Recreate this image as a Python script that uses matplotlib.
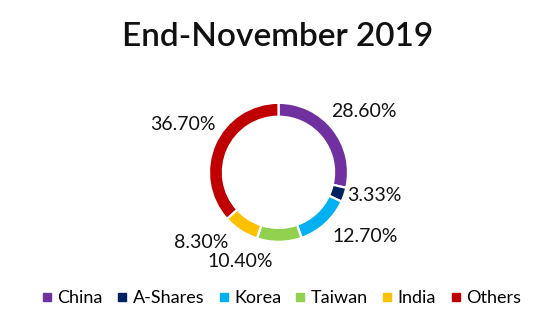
import numpy as np
import matplotlib
matplotlib.use('Agg')
import matplotlib.pyplot as plt
from matplotlib.lines import Line2D

# Datos
regiones = ['China', 'A-Shares', 'Korea', 'Taiwan', 'India', 'Others']
pesos = [28.60, 3.33, 12.70, 10.40, 8.30, 36.70]
colores = ['#7030A0', '#002060', '#00B0F0', '#92D050', '#FFC000', '#C00000']
etiquetas = [f'{p:.2f}%' for p in pesos]

# posicion de las etiquetas (en radios del anillo)
pos_etq = [(1.23, 0.80), (1.38, -0.41), (1.25, -1.00),
           (-0.55, -1.36), (-1.11, -1.09), (-1.37, 0.61)]

plt.rcParams['font.family'] = ['Lato', 'DejaVu Sans']

fig = plt.figure(figsize=(5.56, 3.29), dpi=100)
ax = fig.add_axes([0.3759, 0.2650, 0.25, 0.4225])

ax.pie(pesos, colors=colores, startangle=90, counterclock=False, radius=1,
       wedgeprops=dict(width=0.2, edgecolor='white', linewidth=1.6))
ax.set_xlim(-1, 1)
ax.set_ylim(-1, 1)
ax.set_aspect('equal')
ax.axis('off')

for txt, (x, y) in zip(etiquetas, pos_etq):
    ax.text(x, y, txt, ha='center', va='baseline', fontsize=14,
            color='#111111', clip_on=False)

fig.text(0.5, 0.860, 'End-November 2019', ha='center', va='baseline',
         fontsize=24, fontweight='semibold', color='#111111')

handles = [Line2D([], [], marker='s', linestyle='none', markersize=5.8,
                  markerfacecolor=c, markeredgecolor=c) for c in colores]
fig.legend(handles, regiones, loc='center', bbox_to_anchor=(0.507, 0.094),
           ncol=6, frameon=False, fontsize=13, handlelength=0.45,
           handletextpad=0.35, columnspacing=0.85, borderpad=0)

plt.savefig('out.png', dpi=100)
